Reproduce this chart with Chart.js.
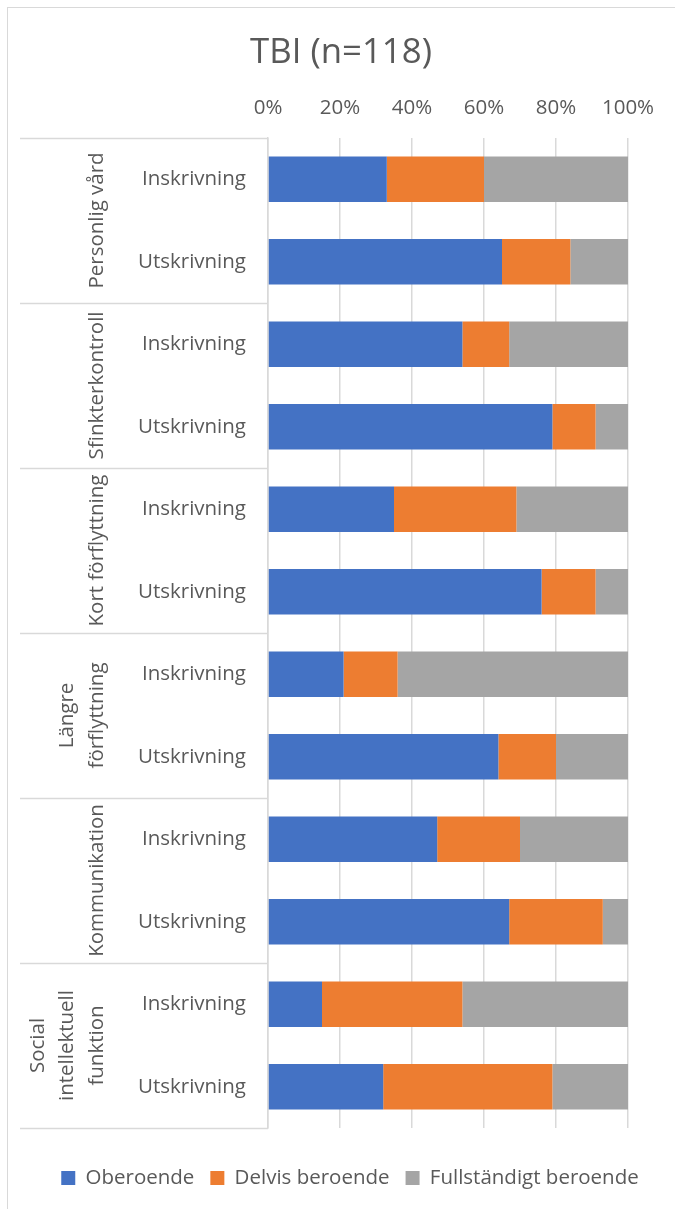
<!DOCTYPE html>
<html>
<head>
<meta charset="utf-8">
<script src="https://cdn.jsdelivr.net/npm/chart.js@4.4.1/dist/chart.umd.min.js"></script>
<style>
  html, body { margin: 0; padding: 0; background: #fff; }
  #wrap { position: relative; width: 675px; height: 1209px; overflow: hidden; }
  #frame { position: absolute; left: 7px; top: 7px; width: 700px; height: 1300px;
           border-left: 1px solid #d9d9d9; border-top: 1px solid #d9d9d9; }
  #chart { position: absolute; left: 0; top: 0; }
</style>
</head>
<body>
<div id="wrap">
  <div id="frame"></div>
  <canvas id="chart" width="675" height="1209"></canvas>
</div>
<script>
// groups (drawn as rotated labels) and the two phases inside each group
const groups = ['Personlig vård', 'Sfinkterkontroll', 'Kort förflyttning', ['Längre', 'förflyttning'], 'Kommunikation', ['Social', 'intellektuell', 'funktion']];
const phases = ['Inskrivning', 'Utskrivning'];

// percent per bar, top to bottom
const oberoende = [33, 65, 54, 79, 35, 76, 21, 64, 47, 67, 15, 32];
const delvisBeroende = [27, 19, 13, 12, 34, 15, 15, 16, 23, 26, 39, 47];
const fullstandigtBeroende = [40, 16, 33, 9, 31, 9, 64, 20, 30, 7, 46, 21];

const xTicks = [0, 20, 40, 60, 80, 100];

const labels = [];
groups.forEach(() => phases.forEach(p => labels.push(p)));

const textColor = '#595959';
const gridColor = '#d9d9d9';
const font = 'Open Sans';

// draws the group labels and the separator lines on the left
const groupLabels = {
  id: 'groupLabels',
  afterLayout(chart) {
    // the legend sits a bit right of the title in the original
    chart.legend.left += 9;
    chart.legend.right += 9;
  },
  afterDraw(chart) {
    const c = chart.ctx;
    const y = chart.scales.y;
    const area = chart.chartArea;
    c.save();
    c.strokeStyle = gridColor;
    c.lineWidth = 1.5;
    const lines = [area.top];
    for (let g = 0; g < groups.length - 1; g++) {
      lines.push((y.getPixelForValue(2 * g + 1) + y.getPixelForValue(2 * g + 2)) / 2);
    }
    lines.push(area.bottom);
    lines.forEach(ly => {
      c.beginPath();
      c.moveTo(20, Math.round(ly) + 0.5);
      c.lineTo(area.left, Math.round(ly) + 0.5);
      c.stroke();
    });

    c.fillStyle = textColor;
    c.font = '20.5px "' + font + '"';
    c.textAlign = 'center';
    c.textBaseline = 'middle';
    groups.forEach((g, i) => {
      const yc = (y.getPixelForValue(2 * i) + y.getPixelForValue(2 * i + 1)) / 2;
      const parts = Array.isArray(g) ? g : [g];
      parts.forEach((t, k) => {
        const x = 97 - (parts.length - 1 - k) * 29.5;
        c.save();
        c.translate(x, yc);
        c.rotate(-Math.PI / 2);
        c.fillText(t, 0, 0);
        c.restore();
      });
    });
    c.restore();
  }
};

const ctx = document.getElementById('chart').getContext('2d');
const chart = new Chart(ctx, {
  type: 'bar',
  data: {
    labels: labels,
    datasets: [
      { label: 'Oberoende', data: oberoende, backgroundColor: '#4472C4' },
      { label: 'Delvis beroende', data: delvisBeroende, backgroundColor: '#ED7D31' },
      { label: 'Fullständigt beroende', data: fullstandigtBeroende, backgroundColor: '#A5A5A5' }
    ]
  },
  options: {
    indexAxis: 'y',
    responsive: false,
    animation: false,
    datasets: {
      bar: { barPercentage: 0.55, categoryPercentage: 1, borderWidth: 0 }
    },
    layout: { padding: { top: 0, right: 0, bottom: 10.75, left: 7 } },
    scales: {
      x: {
        type: 'linear',
        position: 'top',
        stacked: true,
        min: 0,
        max: 100,
        afterBuildTicks: s => { s.ticks = xTicks.map(v => ({ value: v })); },
        afterFit: s => { s.height = 64.2; },
        ticks: {
          padding: 18,
          color: textColor,
          font: { family: font, size: 20.5 },
          callback: v => v + '%'
        },
        grid: { color: gridColor, lineWidth: 1.5, drawTicks: false },
        border: { display: false }
      },
      y: {
        type: 'category',
        stacked: true,
        afterFit: s => { s.width = 261; },
        ticks: {
          padding: 22,
          color: textColor,
          font: { family: font, size: 20.5 }
        },
        grid: { display: false, drawTicks: false },
        border: { display: true, color: gridColor, width: 1.5 }
      },
      xb: {
        type: 'linear',
        axis: 'x',
        position: 'bottom',
        afterFit: s => { s.height = 23.75; },
        ticks: { display: false },
        grid: { display: false, drawTicks: false },
        border: { display: false }
      },
      yr: {
        type: 'linear',
        axis: 'y',
        position: 'right',
        afterFit: s => { s.width = 47; },
        ticks: { display: false },
        grid: { display: false, drawTicks: false },
        border: { display: false }
      }
    },
    plugins: {
      title: {
        display: true,
        text: 'TBI (n=118)',
        color: textColor,
        font: { family: font, size: 34.8, weight: 'normal' },
        padding: { top: 32, bottom: 0 }
      },
      legend: {
        position: 'bottom',
        labels: {
          boxWidth: 14,
          boxHeight: 14,
          padding: 16,
          color: textColor,
          font: { family: font, size: 20.5 }
        }
      },
      tooltip: { enabled: false }
    }
  },
  plugins: [groupLabels]
});
</script>
</body>
</html>
